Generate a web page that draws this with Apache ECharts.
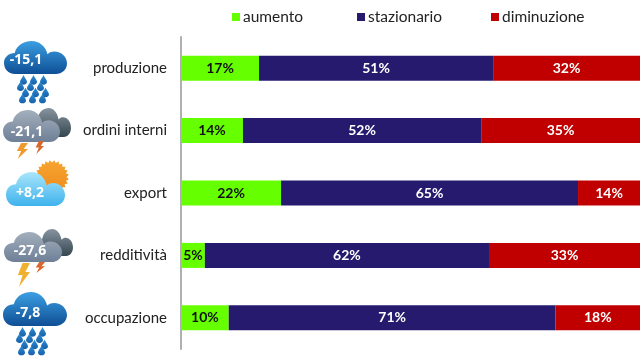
<div id="main" style="position:absolute;left:0;top:0;width:640px;height:357px"></div>
<script src="https://cdn.jsdelivr.net/npm/echarts@6/dist/echarts.min.js"></script>
<script>
  const categories = ['produzione', 'ordini interni', 'export', 'redditività', 'occupazione'];
  const aumento = [17, 13.5, 21.8, 5.2, 10.4];
  const stazionario = [51, 51.9, 64.7, 61.9, 71.2];
  const diminuzione = [32, 34.6, 13.5, 32.9, 18.4];
  const indici = ['-15,1', '-21,1', '+8,2', '-27,6', '-7,8'];

  const FONT = 'Lato';
  // icon shapes, each drawn in its own box and scaled into place
  echarts.graphic.registerShape('wxCloud', echarts.graphic.extendPath('M18 50C6 50 0 42 0 33C0 24 8 18 17 18C20 6 32 0 44 0C56 0 66 8 69 20C72 17 76 16 80 16C91 16 100 24 100 34C100 43 92 50 82 50Z'));
  echarts.graphic.registerShape('wxDrop', echarts.graphic.extendPath('M5 0C6 4 10 7 10 10.5C10 13 8 15 5 15C2 15 0 13 0 10.5C0 7 4 4 5 0Z'));
  echarts.graphic.registerShape('wxBolt', echarts.graphic.extendPath('M6 0L14 0L9 9L14 9L2 24L6 12L1 12Z'));

  function grad(a, b) {
    return { type: 'linear', x: 0, y: 0, x2: 0, y2: 1, colorStops: [{ offset: 0, color: a }, { offset: 1, color: b }] };
  }
  function cloud(x, y, width, height, fill) {
    return { type: 'wxCloud', x: x, y: y, scaleX: width / 100, scaleY: height / 50, style: { fill: fill }, silent: true };
  }
  function drops(x, y) {
    const out = [];
    const rows = [[3, 13, 23], [0, 10, 20], [5, 15, 25], [2, 12, 22]];
    rows.forEach((row, i) => {
      row.forEach((dx) => {
        out.push({ type: 'wxDrop', x: x + dx, y: y + i * 6.2, scaleX: 0.7, scaleY: 0.65, style: { fill: grad('#2f8fd6', '#1560a8') }, silent: true });
      });
    });
    return out;
  }
  function bolt(x, y, width, height, color) {
    return { type: 'wxBolt', x: x, y: y, scaleX: width / 14, scaleY: height / 24, style: { fill: color }, silent: true };
  }
  function label(text, x, y) {
    return { type: 'text', x: x, y: y, z: 10, silent: true, style: { text: text, fill: '#fff', font: 'bold 14px "Open Sans"', align: 'center', verticalAlign: 'middle' } };
  }
  function sun(cx, cy, r) {
    const points = [];
    for (let i = 0; i < 48; i++) {
      const a = (i / 48) * Math.PI * 2;
      const d = i % 2 ? r : r - 2.5;
      points.push([cx + Math.cos(a) * d, cy + Math.sin(a) * d]);
    }
    return { type: 'polygon', shape: { points: points }, style: { fill: grad('#f7a531', '#ee8a1c') }, silent: true };
  }

  const blue = grad('#3c9fe2', '#0f4f96');
  const grey = grad('#a3afbc', '#6e7f97');
  const dark = grad('#8794a0', '#36474f');
  const sky = grad('#a9e5fb', '#3fb2ec');

  const icons = [
    cloud(4, 41, 63, 33, blue),
    ...drops(17, 75),
    label(indici[0], 26, 60),
    cloud(31, 108, 40, 29, dark),
    cloud(3, 110, 57, 32, grey),
    bolt(16, 143, 12, 16, '#ee9a2c'),
    bolt(35, 141, 9, 13, '#d9662a'),
    label(indici[1], 27, 132),
    sun(52, 177, 17),
    cloud(6, 172, 59, 34, sky),
    label(indici[2], 30, 193),
    cloud(36, 229, 37, 27, dark),
    cloud(4, 232, 58, 30, grey),
    bolt(17, 263, 13, 24, '#f0b030'),
    bolt(35, 262, 10, 11, '#d9662a'),
    label(indici[3], 30, 251),
    cloud(3, 292, 64, 34, blue),
    ...drops(16, 327),
    label(indici[4], 28, 313),
  ];

  var myChart = echarts.init(document.getElementById('main'));

  function bar(name, data, color, textColor) {
    return {
      name: name,
      type: 'bar',
      stack: 'tot',
      barWidth: 25,
      data: data,
      itemStyle: { color: color },
      label: {
        show: true,
        position: 'inside',
        color: textColor,
        fontFamily: FONT,
        fontWeight: 'bold',
        fontSize: 14,
        formatter: (p) => Math.round(p.value) + '%',
      },
    };
  }

  function legendItem(name, left) {
    return {
      data: [name],
      left: left,
      top: 4,
      icon: 'rect',
      itemWidth: 8,
      itemHeight: 8,
      selectedMode: false,
      textStyle: { fontFamily: FONT, fontSize: 15.5, color: '#222', padding: [0, 0, 0, -2] },
    };
  }

  var option = {
    animation: false,
    backgroundColor: '#fff',
    grid: { left: 181, right: 0, top: 37, bottom: 8 },
    legend: [legendItem('aumento', 227), legendItem('stazionario', 352), legendItem('diminuzione', 486)],
    xAxis: { type: 'value', min: 0, max: 100, show: false },
    yAxis: {
      type: 'category',
      inverse: true,
      data: categories,
      axisLine: { lineStyle: { color: '#b0b0b0', width: 2 } },
      axisTick: { length: 3, lineStyle: { color: '#a0a0a0' } },
      axisLabel: { margin: 14, fontFamily: FONT, fontSize: 15, color: '#222' },
    },
    series: [
      bar('aumento', aumento, '#66ff00', '#111'),
      bar('stazionario', stazionario, '#251a6e', '#fff'),
      bar('diminuzione', diminuzione, '#c00000', '#fff'),
    ],
    graphic: { elements: icons },
  };

  myChart.setOption(option);
</script>
